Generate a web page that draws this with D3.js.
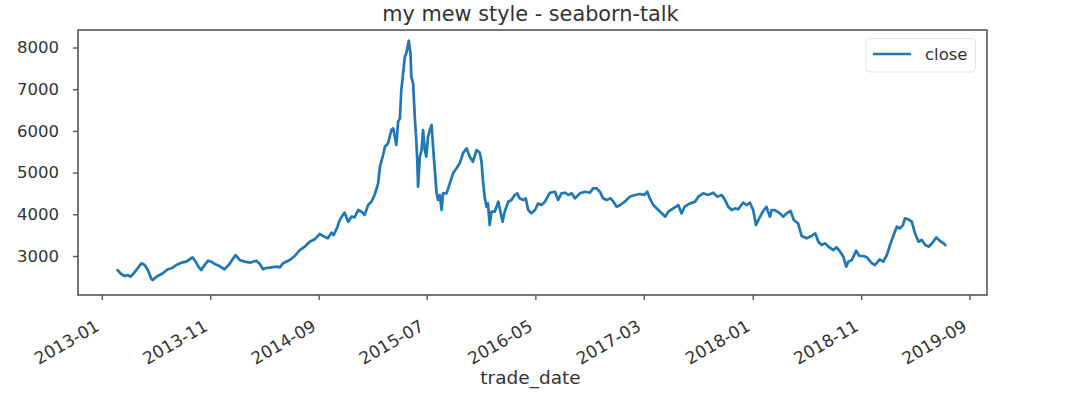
<!DOCTYPE html>
<html><head><meta charset="utf-8">
<script src="https://cdn.jsdelivr.net/npm/d3@7"></script>
<style>
body{margin:0;background:#fff}
svg{display:block}
text{font-family:"DejaVu Sans",sans-serif}
</style>
</head><body>
<svg id="chart" width="1080" height="399"></svg>
<script>
const tradeDates = [
"2013-02-14","2013-02-24","2013-03-06","2013-03-15","2013-03-22","2013-03-29","2013-04-22","2013-05-01","2013-05-10","2013-05-20",
"2013-05-24","2013-06-03","2013-06-12","2013-06-21","2013-07-05","2013-07-15","2013-07-29","2013-08-12","2013-08-26","2013-09-12",
"2013-09-21","2013-09-30","2013-10-07","2013-10-16","2013-10-26","2013-11-04","2013-11-13","2013-11-27","2013-12-11","2013-12-25",
"2014-01-11","2014-01-23","2014-02-06","2014-02-20","2014-03-10","2014-03-20","2014-03-29","2014-04-07","2014-04-21","2014-05-06",
"2014-05-15","2014-05-24","2014-06-12","2014-06-26","2014-07-10","2014-07-24","2014-08-07","2014-08-21","2014-09-04","2014-09-18",
"2014-09-27","2014-10-07","2014-10-13","2014-10-23","2014-10-30","2014-11-08","2014-11-13","2014-11-23","2014-12-02","2014-12-11",
"2014-12-21","2014-12-30","2015-01-08","2015-01-18","2015-01-27","2015-02-05","2015-02-15","2015-02-20","2015-03-01","2015-03-06",
"2015-03-15","2015-03-24","2015-03-29","2015-04-03","2015-04-07","2015-04-12","2015-04-17","2015-04-21","2015-04-26","2015-05-01",
"2015-05-05","2015-05-12","2015-05-17","2015-05-19","2015-05-24","2015-05-29","2015-06-02","2015-06-05","2015-06-07","2015-06-12",
"2015-06-17","2015-06-21","2015-06-26","2015-06-30","2015-07-05","2015-07-10","2015-07-15","2015-07-19","2015-07-24","2015-07-29",
"2015-08-02","2015-08-07","2015-08-12","2015-08-16","2015-08-26","2015-09-04","2015-09-13","2015-09-23","2015-10-02","2015-10-11",
"2015-10-21","2015-10-30","2015-11-08","2015-11-18","2015-11-27","2015-12-02","2015-12-06","2015-12-11","2015-12-16","2015-12-20",
"2015-12-25","2015-12-30","2016-01-08","2016-01-18","2016-01-24","2016-01-30","2016-02-05","2016-02-15","2016-02-24","2016-03-04",
"2016-03-11","2016-03-18","2016-03-28","2016-04-04","2016-04-11","2016-04-20","2016-04-30","2016-05-09","2016-05-18","2016-05-28",
"2016-06-11","2016-06-25","2016-07-04","2016-07-13","2016-07-23","2016-08-01","2016-08-11","2016-08-20","2016-09-03","2016-09-17",
"2016-10-01","2016-10-10","2016-10-20","2016-10-29","2016-11-07","2016-11-17","2016-11-28","2016-12-06","2016-12-15","2016-12-25",
"2017-01-07","2017-01-21","2017-02-04","2017-02-19","2017-03-02","2017-03-11","2017-03-18","2017-03-28","2017-04-11","2017-04-23",
"2017-04-30","2017-05-09","2017-05-23","2017-06-06","2017-06-15","2017-06-24","2017-07-09","2017-07-23","2017-08-01","2017-08-15",
"2017-08-29","2017-09-12","2017-09-23","2017-10-06","2017-10-15","2017-10-24","2017-11-03","2017-11-12","2017-11-21","2017-12-05",
"2017-12-15","2017-12-24","2018-01-02","2018-01-10","2018-01-19","2018-01-29","2018-02-08","2018-02-18","2018-02-23","2018-03-04",
"2018-03-18","2018-03-27","2018-04-06","2018-04-17","2018-04-26","2018-05-08","2018-05-18","2018-06-01","2018-06-15","2018-06-25",
"2018-07-04","2018-07-13","2018-07-23","2018-08-01","2018-08-15","2018-08-24","2018-09-03","2018-09-12","2018-09-20","2018-09-26",
"2018-10-06","2018-10-18","2018-10-27","2018-11-07","2018-11-17","2018-12-01","2018-12-10","2018-12-23","2019-01-02","2019-01-12",
"2019-01-21","2019-01-31","2019-02-09","2019-02-18","2019-02-26","2019-03-04","2019-03-13","2019-03-23","2019-04-01","2019-04-11",
"2019-04-20","2019-04-30","2019-05-09","2019-05-19","2019-05-31","2019-06-09","2019-06-20","2019-06-25"
];
const closeValues = [
2660,2568,2520,2544,2504,2561,2825,2784,2664,2448,
2424,2504,2544,2585,2681,2705,2784,2840,2864,2969,
2864,2729,2664,2784,2888,2864,2808,2760,2681,2808,
3024,2904,2864,2840,2888,2808,2681,2712,2729,2744,
2729,2825,2904,3000,3144,3224,3343,3400,3528,3463,
3424,3560,3500,3680,3860,3983,4039,3823,3943,3928,
4103,4063,3983,4223,4302,4463,4744,5142,5422,5621,
5703,6022,6062,5861,5662,6221,6302,6981,7381,7781,
7861,8163,7820,7300,7142,6302,5782,5223,4662,5381,
5542,6022,5542,5381,5861,6022,6142,5621,5062,4503,
4343,4463,4103,4503,4503,4744,4983,5103,5223,5463,
5583,5381,5262,5542,5480,5262,4800,4400,4183,4263,
3743,4063,4063,4302,4063,3823,4063,4302,4343,4463,
4503,4383,4343,4383,4103,4023,4103,4263,4223,4302,
4518,4542,4343,4503,4518,4463,4503,4383,4503,4542,
4518,4623,4623,4542,4383,4343,4383,4302,4183,4223,
4302,4423,4463,4487,4463,4542,4383,4223,4103,4007,
3943,4063,4143,4223,4023,4183,4263,4302,4423,4503,
4463,4518,4423,4463,4343,4183,4103,4143,4120,4278,
4223,4278,4103,3743,3904,4063,4183,3943,4103,4103,
4023,3943,4023,4079,3863,3784,3480,3424,3480,3544,
3343,3264,3304,3224,3144,3208,3104,2984,2744,2864,
2904,3128,3000,3000,2969,2825,2784,2920,2864,3024,
3264,3504,3703,3664,3743,3904,3880,3823,3544,3343,
3384,3264,3224,3304,3448,3368,3304,3264
];
const xTickLabels = ["2013-01","2013-11","2014-09","2015-07","2016-05","2017-03","2018-01","2018-11","2019-09"];
const yTickValues = [3000,4000,5000,6000,7000,8000];
const xDomainDates = ["2012-10-26","2019-10-20"];
const yDomainValues = [2065, 8420];
const seriesName = "close";
const titleText = "my mew style - seaborn-talk";
const xLabelText = "trade_date";

(function () {
const parseDay = d3.timeParse("%Y-%m-%d");
const parseMonth = d3.timeParse("%Y-%m");
const data = tradeDates.map((d, i) => ({date: parseDay(d), value: closeValues[i]}));

const pL = 78, pR = 987, pT = 30, pB = 295;
const svg = d3.select("#chart");
const axisColor = "#555";
const textColor = "#333";
const lineColor = "#1f77b4";

const x = d3.scaleTime().domain(xDomainDates.map(parseDay)).range([pL, pR]);
const y = d3.scaleLinear().domain(yDomainValues).range([pB, pT]);

const line = d3.line().x(d => x(d.date)).y(d => y(d.value));
svg.append("path").datum(data)
  .attr("d", line)
  .attr("fill", "none")
  .attr("stroke", lineColor)
  .attr("stroke-width", 2.7)
  .attr("stroke-linejoin", "round")
  .attr("stroke-linecap", "round");

const yAxis = svg.append("g").attr("transform", `translate(${pL},0)`)
  .call(d3.axisLeft(y).tickValues(yTickValues).tickSize(5).tickPadding(14).tickFormat(d3.format("d")));
yAxis.select(".domain").remove();
yAxis.selectAll(".tick line").attr("stroke", axisColor).attr("stroke-width", 1.4);
yAxis.selectAll(".tick text").attr("fill", textColor).style("font-size", "16.5px")
  .style("font-family", "'DejaVu Sans', sans-serif");

const xTicks = xTickLabels.map(parseMonth);
const xAxis = svg.append("g").attr("transform", `translate(0,${pB})`)
  .call(d3.axisBottom(x).tickValues(xTicks).tickSize(5).tickFormat(d3.timeFormat("%Y-%m")));
xAxis.select(".domain").remove();
xAxis.selectAll(".tick line").attr("stroke", axisColor).attr("stroke-width", 1.4);
xAxis.selectAll(".tick text")
  .attr("fill", textColor).style("font-size", "17px")
  .style("font-family", "'DejaVu Sans', sans-serif")
  .attr("x", 0).attr("y", 0).attr("dy", null)
  .attr("text-anchor", "end")
  .attr("transform", "translate(-2,34.5) rotate(-30)");

svg.append("rect")
  .attr("x", pL).attr("y", pT)
  .attr("width", pR - pL).attr("height", pB - pT)
  .attr("fill", "none").attr("stroke", axisColor).attr("stroke-width", 1.6);

svg.append("text")
  .attr("x", (pL + pR) / 2 - 2).attr("y", 21)
  .attr("text-anchor", "middle")
  .attr("fill", textColor)
  .style("font-size", "20.8px")
  .text(titleText);

svg.append("text")
  .attr("x", (pL + pR) / 2 - 2).attr("y", 384)
  .attr("text-anchor", "middle")
  .attr("fill", textColor)
  .style("font-size", "18.5px")
  .text(xLabelText);

const lg = svg.append("g");
lg.append("rect")
  .attr("x", 866).attr("y", 38.5).attr("width", 109.5).attr("height", 33.5)
  .attr("rx", 4).attr("fill", "#fff").attr("fill-opacity", 0.8)
  .attr("stroke", "#e3e3e3").attr("stroke-width", 1);
lg.append("line")
  .attr("x1", 873).attr("x2", 911).attr("y1", 54).attr("y2", 54)
  .attr("stroke", lineColor).attr("stroke-width", 2.7);
lg.append("text")
  .attr("x", 925).attr("y", 54).attr("dy", "0.35em")
  .attr("fill", textColor)
  .style("font-size", "16.5px")
  .text(seriesName);
})();
</script>
</body></html>
